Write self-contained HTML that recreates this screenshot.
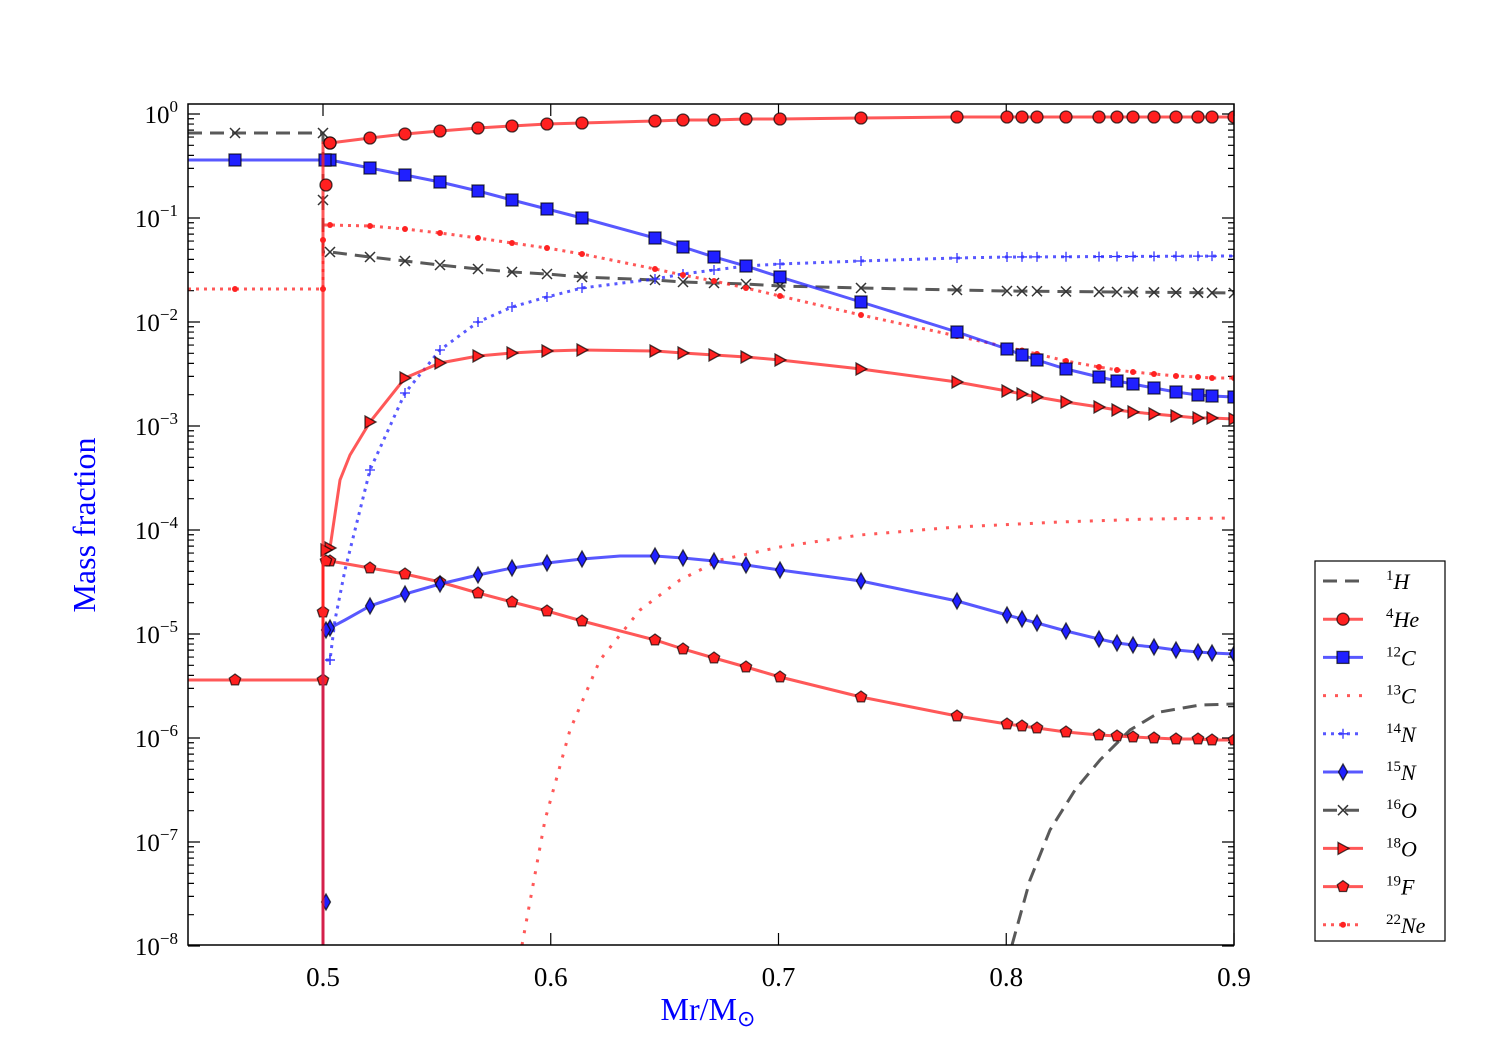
<!DOCTYPE html>
<html><head><meta charset="utf-8"><style>
body{margin:0;background:#fff;}
svg text{font-family:"Liberation Serif",serif;}
</style></head><body>
<svg id="s" width="1500" height="1050" xmlns="http://www.w3.org/2000/svg"></svg>
<script>
const S=document.getElementById('s');let h='';
const L=188,R=1234,T=104,B=945;
function X(m){return 323+(m-0.5)*2277.5;}
function Y(l){return 114-l*104;}
h+=`<defs><clipPath id="c"><rect x="${L}" y="${T}" width="${R-L}" height="${B-T}"/></clipPath></defs>`;
let ax='';
for(let d=-8;d<=0;d++){let y=Y(d);ax+=`M${L},${y}h12M${R},${y}h-12`;
 h+=`<text x="${L-10}" y="${y+9}" font-size="25" text-anchor="end">10<tspan dy="-11" font-size="17">${d==0?'0':'−'+(-d)}</tspan></text>`;
 for(let k=2;k<10;k++){let yy=Y(d+Math.log10(k));if(yy>T&&yy<B)ax+=`M${L},${yy}h6M${R},${yy}h-6`;}
}
for(let v=0.5;v<=0.901;v+=0.1){let x=X(v);ax+=`M${x},${B}v-12M${x},${T}v12`;h+=`<text x="${x}" y="${B+41}" font-size="27" text-anchor="middle">${v.toFixed(1)}</text>`;}
h+=`<path d="${ax}" stroke="#000" stroke-width="1.2" fill="none"/>`;
h+=`<text x="708" y="1020" font-size="32" fill="#00f" text-anchor="middle">Mr/M<tspan font-size="22" dy="6">⊙</tspan></text>`;
h+=`<text transform="translate(95,525) rotate(-90)" font-size="32" fill="#00f" text-anchor="middle">Mass fraction</text>`;
const XS=[330,370,405,440,478,512,547,582,655,683,714,746,780,861,957,1007,1022,1037,1066,1099,1117,1133,1154,1176,1198,1212,1234];
function mk(t,x,y,fc){
 if(t=='o')return `<circle cx="${x}" cy="${y}" r="6" fill="${fc}" stroke="#000" stroke-opacity=".7" stroke-width="1.3"/>`;
 if(t=='s')return `<rect x="${x-6}" y="${y-6}" width="12" height="12" fill="${fc}" stroke="#000" stroke-opacity=".7" stroke-width="1.3"/>`;
 if(t=='d')return `<path d="M${x},${y-8}L${x+4.5},${y}L${x},${y+8}L${x-4.5},${y}Z" fill="${fc}" stroke="#000" stroke-opacity=".7" stroke-width="1.3"/>`;
 if(t=='>')return `<path d="M${x-5},${y-6}L${x+6},${y}L${x-5},${y+6}Z" fill="${fc}" stroke="#000" stroke-opacity=".7" stroke-width="1.3"/>`;
 if(t=='p'){let p=[];for(let i=0;i<5;i++){let a=-Math.PI/2+i*2*Math.PI/5;p.push((x+6*Math.cos(a)).toFixed(1)+','+(y+6*Math.sin(a)).toFixed(1));}return `<polygon points="${p.join(' ')}" fill="${fc}" stroke="#000" stroke-opacity=".7" stroke-width="1.3"/>`;}
 if(t=='x')return `<path d="M${x-5},${y-5}l10,10M${x-5},${y+5}l10,-10" stroke="#333" stroke-width="1.5"/>`;
 if(t=='+')return `<path d="M${x-5},${y}h10M${x},${y-5}v10" stroke="#33f" stroke-width="1.3"/>`;
 if(t=='.')return `<circle cx="${x}" cy="${y}" r="3" fill="#f22"/>`;
 return '';
}
function interp(pts,x){for(let i=1;i<pts.length;i++){if(x<=pts[i][0]){let a=pts[i-1],b=pts[i];return a[1]+(b[1]-a[1])*(x-a[0])/(b[0]-a[0]);}}return pts[pts.length-1][1];}
function series(pts,col,dash,m,fc,extra){
 let d='M'+pts.map(p=>p.join(',')).join('L');
 let s=`<path d="${d}" stroke="${col}" stroke-width="3" fill="none" stroke-opacity=".75" ${dash?`stroke-dasharray="${dash}"`:''}/>`;
 if(m){for(const x of XS){if(x>=pts[0][0]&&x<=R)s+=mk(m,x,interp(pts,x),fc);}(extra||[]).forEach(p=>s+=mk(m,p[0],p[1],fc));}
 return s;
}
const RED='#ff2020',BLU='#2020ff',BLK='#222';
let g='';
g+=series([[188,133],[323,133],[323,200],[323,252],[330,252],[370,257],[405,261],[440,265],[478,269],[512,272],[547,274],[582,277],[655,280],[683,282],[714,283],[746,284],[780,286],[861,288],[957,290],[1007,291],[1234,293]],BLK,'14,8','x','#333',[[235,133],[323,133],[323,200]]);
g+=series([[522,945],[545,820],[570,730],[600,660],[640,610],[680,580],[720,560],[780,547],[860,535],[957,527],[1060,522],[1150,519],[1234,518]],RED,'3,9,3,9','', '');
g+=series([[1012,945],[1030,880],[1050,830],[1075,790],[1100,760],[1130,730],[1160,712],[1200,705],[1234,704]],BLK,'14,8','','');
g+=series([[323,945],[323,660],[330,660],[335,620],[345,570],[370,470],[405,393],[440,350],[478,322],[512,307],[547,297],[582,288],[655,279],[683,274],[714,270],[746,266],[780,264],[861,261],[957,258],[1007,257],[1234,256]],BLU,'3,5','+','',[[330,660]]);
g+=series([[188,289],[323,289],[323,225],[330,225],[370,226],[405,229],[440,233],[478,238],[512,243],[547,248],[582,254],[655,269],[683,275],[714,281],[746,288],[780,296],[861,315],[957,336],[1007,347],[1037,354],[1066,361],[1099,367],[1117,370],[1133,372],[1154,374],[1176,376],[1198,377],[1212,378],[1234,378]],RED,'3,5','.','',[[235,289],[323,289],[323,240]]);
g+=series([[188,680],[323,680],[323,945],[323,612],[323,561],[330,561],[370,568],[405,574],[440,582],[478,593],[512,602],[547,611],[582,621],[655,640],[683,649],[714,658],[746,667],[780,677],[861,697],[957,716],[1007,724],[1022,726],[1037,728],[1066,732],[1099,735],[1117,736],[1133,737],[1154,738],[1176,739],[1198,739],[1212,740],[1234,740]],RED,'','p',RED,[[235,680],[323,680],[323,612],[326,561]]);
g+=series([[323,945],[323,550],[330,548],[340,480],[350,455],[370,422],[405,378],[440,363],[478,356],[512,353],[547,351],[582,350],[655,351],[683,353],[714,355],[746,357],[780,360],[861,369],[957,382],[1007,391],[1022,394],[1037,397],[1066,402],[1099,407],[1117,410],[1133,412],[1154,414],[1176,416],[1198,418],[1212,418],[1234,419]],RED,'','>',RED,[[326,550]]);
g+=series([[323,945],[323,902],[323,628],[330,628],[345,620],[370,606],[405,594],[440,584],[478,575],[512,568],[547,563],[582,559],[620,556],[655,556],[683,558],[714,561],[746,565],[780,570],[861,581],[957,601],[1007,615],[1022,619],[1037,623],[1066,631],[1099,639],[1117,643],[1133,645],[1154,647],[1176,650],[1198,652],[1212,653],[1234,654]],BLU,'','d',BLU,[[326,902],[326,630]]);
g+=series([[188,160],[323,160],[330,160],[370,168],[405,175],[440,182],[478,191],[512,200],[547,209],[582,218],[655,238],[683,247],[714,257],[746,266],[780,277],[861,302],[957,332],[1007,349],[1022,355],[1037,360],[1066,369],[1099,377],[1117,381],[1133,384],[1143,386],[1154,388],[1176,392],[1198,395],[1212,396],[1234,397]],BLU,'','s',BLU,[[235,160],[325,160]]);
g+=series([[323,945],[323,185],[323,143],[330,143],[370,138],[405,134],[440,131],[478,128],[512,126],[547,124],[582,123],[655,121],[683,120],[714,120],[746,119],[780,119],[861,118],[957,117],[1007,117],[1234,117]],RED,'','o',RED,[[326,185],[330,143]]);
h+=`<g clip-path="url(#c)">${g}</g>`;
h+=`<rect x="${L}" y="${T}" width="${R-L}" height="${B-T}" fill="none" stroke="#000" stroke-width="1.5"/>`;
h+=`<rect x="1315" y="561" width="130" height="380" fill="#fff" stroke="#000" stroke-width="1.2"/>`;
const lg=[['1','H',BLK,'14,8',''],['4','He',RED,'','o'],['12','C',BLU,'','s'],['13','C',RED,'3,9,3,9',''],['14','N',BLU,'3,5','+'],['15','N',BLU,'','d'],['16','O',BLK,'14,8','x'],['18','O',RED,'','>'],['19','F',RED,'','p'],['22','Ne',RED,'3,5','.']];
lg.forEach((e,i)=>{let y=581+i*38.2;
 h+=`<path d="M1323,${y}h40" stroke="${e[2]}" stroke-width="3" stroke-opacity=".75" ${e[3]?`stroke-dasharray="${e[3]}"`:''}/>`;
 if(e[4])h+=mk(e[4],1343,y,e[2]);
 h+=`<text x="1386" y="${y+8}" font-size="22" font-style="italic"><tspan font-size="15" dy="-9" font-style="normal">${e[0]}</tspan><tspan dy="9">${e[1]}</tspan></text>`;
});
S.innerHTML=h;
</script>
</body></html>
